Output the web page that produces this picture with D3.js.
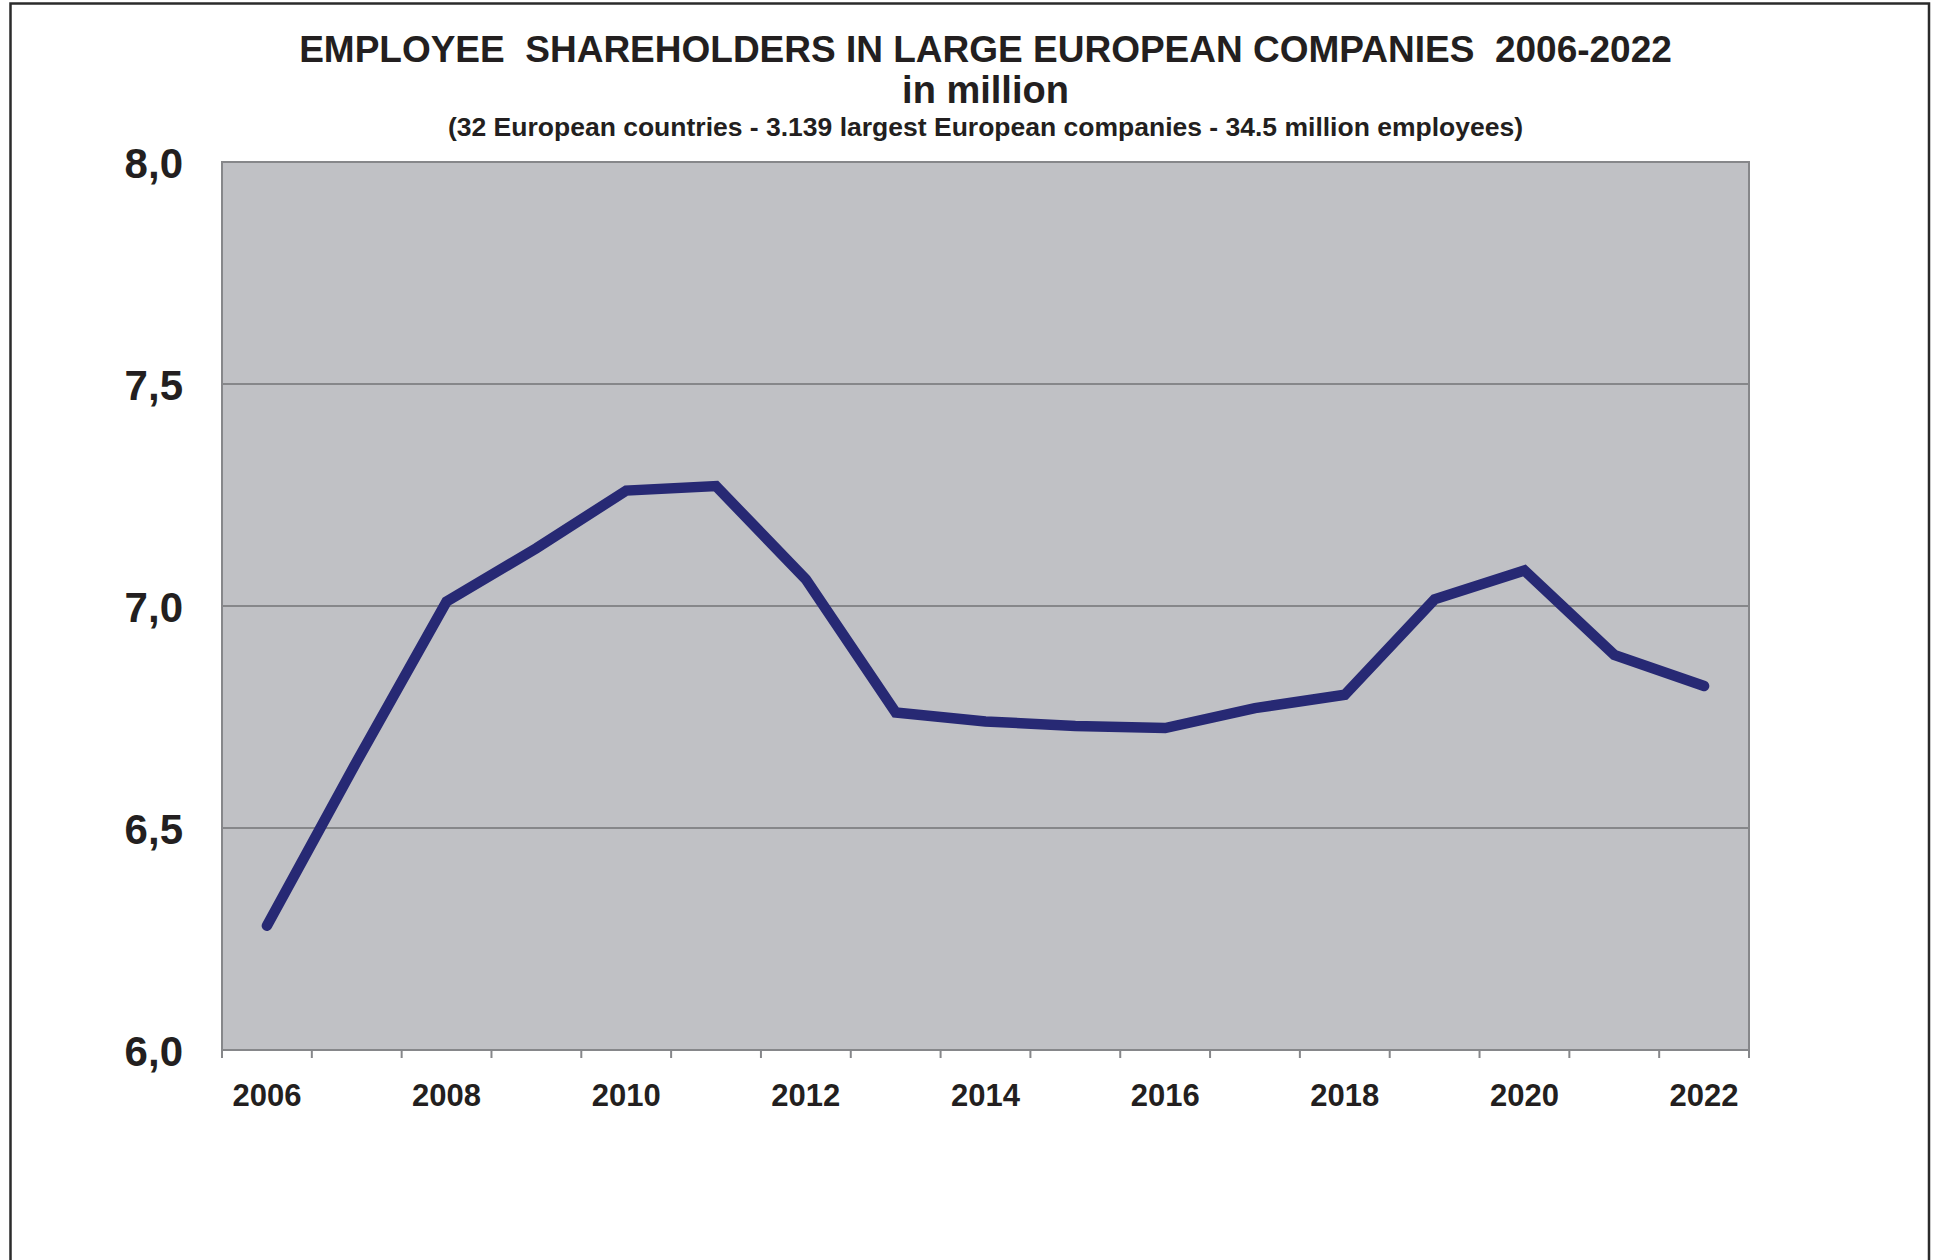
<!DOCTYPE html>
<html>
<head>
<meta charset="utf-8">
<script src="https://cdn.jsdelivr.net/npm/d3@7"></script>
<style>
  html, body { margin: 0; padding: 0; background: #fff; }
  svg { display: block; }
  text { font-family: "Liberation Sans", Arial, sans-serif; font-weight: bold; fill: #231f20; }
</style>
</head>
<body>
<script>
// data
const years = d3.range(2006, 2023);
const holders = [6.28, 6.65, 7.01, 7.13, 7.26, 7.27, 7.06, 6.76, 6.74, 6.73, 6.725, 6.77, 6.80, 7.015, 7.08, 6.89, 6.82];
const yTicks = [6.0, 6.5, 7.0, 7.5, 8.0];
const xLabels = [2006, 2008, 2010, 2012, 2014, 2016, 2018, 2020, 2022];

const title = 'EMPLOYEE\u00a0\u00a0SHAREHOLDERS IN LARGE EUROPEAN COMPANIES\u00a0\u00a02006-2022';
const title2 = 'in million';
const subtitle = '(32 European countries - 3.139 largest European companies - 34.5 million employees)';

const W = 1934, H = 1260;
const plot = { left: 222, right: 1749, top: 162, bottom: 1050 };

const svg = d3.select('body').append('svg')
  .attr('width', W)
  .attr('height', H);

// outer frame (bottom edge runs off the page)
svg.append('path')
  .attr('d', `M10.5,${H} V3.5 H1929 V${H}`)
  .attr('fill', 'none')
  .attr('stroke', '#2b2b2b')
  .attr('stroke-width', 2.5);

// titles
const cx = (plot.left + plot.right) / 2;
svg.append('text').attr('x', cx).attr('y', 62).attr('text-anchor', 'middle')
  .style('font-size', '37px').text(title);
svg.append('text').attr('x', cx).attr('y', 103).attr('text-anchor', 'middle')
  .style('font-size', '38px').text(title2);
svg.append('text').attr('x', cx).attr('y', 136).attr('text-anchor', 'middle')
  .style('font-size', '26.5px').text(subtitle);

// scales
let x = d3.scaleBand()
  .domain(years)
  .range([plot.left, plot.right])
  .padding(0);

let y = d3.scaleLinear()
  .domain([6, 8])
  .range([plot.bottom, plot.top]);

const comma = d3.formatLocale({ decimal: ',', thousands: '.', grouping: [3], currency: ['', ''] }).format('.1f');

// plot background
svg.append('rect')
  .attr('x', plot.left).attr('y', plot.top)
  .attr('width', plot.right - plot.left).attr('height', plot.bottom - plot.top)
  .attr('fill', '#c0c1c5');

// gridlines
svg.append('g')
  .selectAll('line')
  .data(yTicks.filter(d => d > 6 && d < 8))
  .enter().append('line')
  .attr('x1', plot.left).attr('x2', plot.right)
  .attr('y1', d => y(d)).attr('y2', d => y(d))
  .attr('stroke', '#86878a')
  .attr('stroke-width', 2);

// plot border
svg.append('rect')
  .attr('x', plot.left).attr('y', plot.top)
  .attr('width', plot.right - plot.left).attr('height', plot.bottom - plot.top)
  .attr('fill', 'none')
  .attr('stroke', '#86878a')
  .attr('stroke-width', 2);

// y axis labels
let yAxis = svg.append('g')
  .attr('transform', `translate(${plot.left},0)`)
  .call(d3.axisLeft(y).tickValues(yTicks).tickFormat(comma).tickSize(0).tickPadding(39));
yAxis.select('.domain').remove();
yAxis.selectAll('text')
  .attr('dy', '0.36em')
  .style('font-size', '42px')
  .style('font-family', '"Liberation Sans", Arial, sans-serif')
  .attr('fill', '#231f20');

// x tick marks at band edges
const edges = years.map(d => x(d)).concat([plot.right]);
svg.append('g')
  .selectAll('line')
  .data(edges)
  .enter().append('line')
  .attr('x1', d => d).attr('x2', d => d)
  .attr('y1', plot.bottom).attr('y2', plot.bottom + 8)
  .attr('stroke', '#86878a')
  .attr('stroke-width', 2);

// x axis labels
let xAxis = svg.append('g')
  .attr('transform', `translate(0,${plot.bottom})`)
  .call(d3.axisBottom(x).tickValues(xLabels).tickSize(0).tickPadding(34));
xAxis.select('.domain').remove();
xAxis.selectAll('text')
  .attr('dy', '0.71em')
  .style('font-size', '31px')
  .style('font-family', '"Liberation Sans", Arial, sans-serif')
  .attr('fill', '#231f20');

// the line
const line = d3.line()
  .x((d, i) => x(years[i]) + x.bandwidth() / 2)
  .y(d => y(d));

svg.append('path')
  .datum(holders)
  .attr('d', line)
  .attr('fill', 'none')
  .attr('stroke', '#272974')
  .attr('stroke-width', 10.5)
  .attr('stroke-linecap', 'round')
  .attr('stroke-linejoin', 'miter');
</script>
</body>
</html>
